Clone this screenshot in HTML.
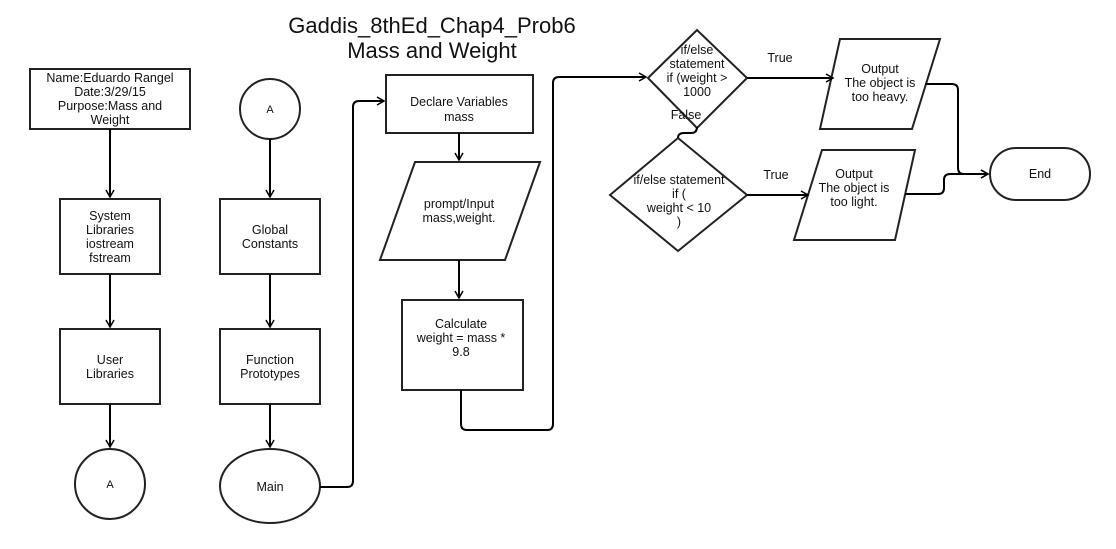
<!DOCTYPE html>
<html><head><style>
body{margin:0;background:#fff;}
svg text{font-family:"Liberation Sans",Arial,sans-serif;font-size:12.5px;fill:#111;text-anchor:middle;}
</style></head><body>
<svg width="1116" height="544" xmlns="http://www.w3.org/2000/svg">
<defs><marker id="a" markerWidth="10" markerHeight="10" refX="8" refY="5" orient="auto" markerUnits="userSpaceOnUse"><path d="M1,1 L8,5 L1,9" fill="none" stroke="#000" stroke-width="1.5"/></marker></defs>
<g fill="#fff" stroke="#222" stroke-width="2">
<rect x="30" y="69" width="160" height="60"/>
<rect x="60" y="199" width="100" height="75"/>
<rect x="60" y="329" width="100" height="75"/>
<ellipse cx="110" cy="484" rx="35" ry="35"/>
<circle cx="270" cy="109" r="30"/>
<rect x="220" y="199" width="100" height="75"/>
<rect x="220" y="329" width="100" height="75"/>
<ellipse cx="270" cy="486" rx="50" ry="37"/>
<rect x="386" y="75" width="147" height="58"/>
<polygon points="415,162 540,162 505,260 380,260"/>
<rect x="402" y="300" width="121" height="90"/>
<polygon points="648,78 697,30 747,78 697,128"/>
<polygon points="610,195 678,138 747,195 678,251"/>
<polygon points="840,39 940,39 912,129 820,129"/>
<polygon points="822,150 915,150 895,240 794,240"/>
<rect x="990" y="148" width="100" height="52" rx="26"/>
</g>
<g fill="none" stroke="#000" stroke-width="2">
<line x1="110" y1="129" x2="110" y2="197" marker-end="url(#a)"/>
<line x1="110" y1="274" x2="110" y2="327" marker-end="url(#a)"/>
<line x1="110" y1="404" x2="110" y2="447" marker-end="url(#a)"/>
<line x1="270" y1="139" x2="270" y2="197" marker-end="url(#a)"/>
<line x1="270" y1="274" x2="270" y2="327" marker-end="url(#a)"/>
<line x1="270" y1="404" x2="270" y2="447" marker-end="url(#a)"/>
<line x1="459" y1="133" x2="459" y2="160" marker-end="url(#a)"/>
<line x1="459" y1="260" x2="459" y2="298" marker-end="url(#a)"/>
<path d="M320,487 H347 Q353,487 353,481 V107 Q353,101 359,101 H384" marker-end="url(#a)"/>
<path d="M461,390 V424 Q461,430 467,430 H547 Q553,430 553,424 V83 Q553,77 559,77 H646" marker-end="url(#a)"/>
<line x1="747" y1="78" x2="833" y2="78" marker-end="url(#a)"/>
<line x1="747" y1="195" x2="808" y2="195" marker-end="url(#a)"/>
<path d="M697,128 V127 Q697,133 691,133 H684 Q678,133 678,138"/>
<path d="M925,84 H952 Q958,84 958,90 V168 Q958,174 964,174 H988" marker-end="url(#a)"/>
<path d="M905,194 H938 Q944,194 944,188 V180 Q944,174 950,174 H988" marker-end="url(#a)"/>
</g>
<text x="432" y="33" style="font-size:22px">Gaddis_8thEd_Chap4_Prob6</text>
<text x="432" y="58" style="font-size:22px">Mass and Weight</text>
<text x="110" y="82">Name:Eduardo Rangel</text>
<text x="110" y="96">Date:3/29/15</text>
<text x="110" y="110">Purpose:Mass and</text>
<text x="110" y="124">Weight</text>
<text x="110" y="220">System</text><text x="110" y="234">Libraries</text><text x="110" y="248">iostream</text><text x="110" y="262">fstream</text>
<text x="110" y="364">User</text><text x="110" y="378">Libraries</text>
<text x="110" y="488" style="font-size:11px">A</text>
<text x="270" y="113" style="font-size:11px">A</text>
<text x="270" y="234">Global</text><text x="270" y="248">Constants</text>
<text x="270" y="364">Function</text><text x="270" y="378">Prototypes</text>
<text x="270" y="491">Main</text>
<text x="459" y="106">Declare Variables</text><text x="459" y="121">mass</text>
<text x="459" y="208">prompt/Input</text><text x="459" y="222">mass,weight.</text>
<text x="461" y="328">Calculate</text><text x="461" y="342">weight = mass *</text><text x="461" y="356">9.8</text>
<text x="697" y="54">if/else</text><text x="697" y="68">statement</text><text x="697" y="82">if (weight &gt;</text><text x="697" y="96">1000</text><text x="686" y="119">False</text>
<text x="679" y="184">if/else statement</text><text x="679" y="198">if (</text><text x="679" y="212">weight &lt; 10</text><text x="679" y="226">)</text>
<text x="780" y="62">True</text>
<text x="776" y="179">True</text>
<text x="880" y="73">Output</text><text x="880" y="87">The object is</text><text x="880" y="101">too heavy.</text>
<text x="854" y="178">Output</text><text x="854" y="192">The object is</text><text x="854" y="206">too light.</text>
<text x="1040" y="178">End</text>
</svg>
</body></html>
